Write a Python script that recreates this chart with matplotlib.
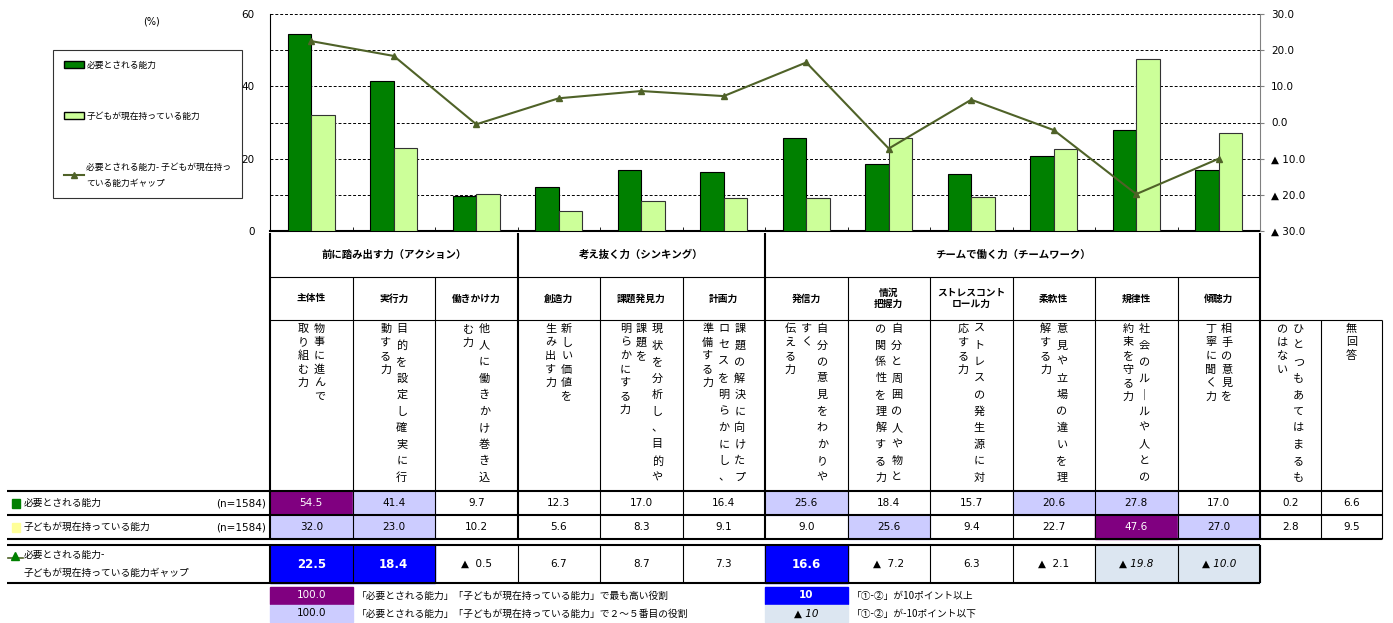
import matplotlib
matplotlib.use('Agg')
import matplotlib.pyplot as plt
from matplotlib.patches import Rectangle, Patch
from matplotlib.lines import Line2D
import numpy as np

plt.rcParams['font.family'] = ['Noto Sans CJK JP', 'DejaVu Sans']
NUM = 'DejaVu Sans'

# ---- data ----
groups = ['前に踏み出す力（アクション）', '考え抜く力（シンキング）', 'チームで働く力（チームワーク）']
group_sizes = [3, 3, 6]
abilities = ['主体性', '実行力', '働きかけ力', '創造力', '課題発見力', '計画力',
             '発信力', '情況\n把握力', 'ストレスコント\nロール力', '柔軟性', '規律性', '傾聴力']
# vertical description text, columns listed right to left
descriptions = [
    ['物事に進んで', '取り組む力'],
    ['目的を設定し確実に行', '動する力'],
    ['他人に働きかけ巻き込', 'む力'],
    ['新しい価値を', '生み出す力'],
    ['現状を分析し、目的や', '課題を', '明らかにする力'],
    ['課題の解決に向けたプ', 'ロセスを明らかにし、', '準備する力'],
    ['自分の意見をわかりや', 'すく', '伝える力'],
    ['自分と周囲の人や物と', 'の関係性を理解する力'],
    ['ストレスの発生源に対', '応する力'],
    ['意見や立場の違いを理', '解する力'],
    ['社会のルールや人との', '約束を守る力'],
    ['相手の意見を', '丁寧に聞く力'],
    ['ひとつもあてはまるも', 'のはない'],
    ['無回答'],
]
needed = [54.5, 41.4, 9.7, 12.3, 17.0, 16.4, 25.6, 18.4, 15.7, 20.6, 27.8, 17.0, 0.2, 6.6]
current = [32.0, 23.0, 10.2, 5.6, 8.3, 9.1, 9.0, 25.6, 9.4, 22.7, 47.6, 27.0, 2.8, 9.5]
gap = [22.5, 18.4, -0.5, 6.7, 8.7, 7.3, 16.6, -7.2, 6.3, -2.1, -19.8, -10.0]

label_need = '必要とされる能力'
label_have = '子どもが現在持っている能力'
label_gap = '必要とされる能力- 子どもが現在持っ\nている能力ギャップ'
n_text = '(n=1584)'

C_NEED = '#008000'
C_HAVE = '#CCFF99'
C_LINE = '#4F6228'
C_TOP = '#800080'
C_RANK = '#CCCCFF'
C_HI = '#0000FF'
C_LO = '#DCE6F1'

W, H = 1393, 623
fig = plt.figure(figsize=(W / 100, H / 100), dpi=100)

# ---- chart ----
n_cat = len(gap)
ax = fig.add_axes([270 / W, 1 - 231 / H, 990 / W, 217 / H])
x = np.arange(n_cat)
bw = 0.285
ax.bar(x - bw / 2, needed[:n_cat], bw, color=C_NEED, edgecolor='black', lw=0.8, zorder=3)
ax.bar(x + bw / 2, current[:n_cat], bw, color=C_HAVE, edgecolor='#333333', lw=0.8, zorder=3)
ax.set_xlim(-0.5, n_cat - 0.5)
ax.set_ylim(0, 60)
ax.set_yticks([0, 20, 40, 60])
ax.set_yticks([10, 30, 50], minor=True)
ax.set_xticks([])
ax.set_xticks(np.arange(-0.5, n_cat, 1), minor=True)
ax.grid(axis='y', which='both', ls=(0, (3, 2)), color='black', lw=0.7, zorder=0)
ax.tick_params(axis='x', which='minor', direction='in', length=3, labelbottom=False)
ax.tick_params(axis='y', which='both', length=0, labelsize=7.5, pad=11)
for lbl in ax.get_yticklabels():
    lbl.set_family(NUM)
ax.spines['top'].set_visible(False)
ax.spines['right'].set_visible(False)
ax.spines['bottom'].set_linewidth(1.5)

ax2 = ax.twinx()
ax2.plot(x, gap, color=C_LINE, lw=1.5, marker='^', ms=5, zorder=5)
ax2.set_ylim(-30, 30)
gticks = [30, 20, 10, 0, -10, -20, -30]
glabels = [f'{v:.1f}' if v >= 0 else f'▲ {abs(v):.1f}' for v in gticks]
ax2.set_yticks(gticks, labels=glabels, fontsize=7.5, family=NUM)
ax2.tick_params(axis='y', length=3, pad=5, color='#808080')
ax2.spines['top'].set_visible(False)
ax2.spines['left'].set_visible(False)
ax2.spines['bottom'].set_visible(False)
ax2.spines['right'].set_color('#808080')

handles = [Patch(facecolor=C_NEED, edgecolor='black'),
           Patch(facecolor=C_HAVE, edgecolor='black'),
           Line2D([], [], color=C_LINE, marker='^', ms=4, lw=1.5)]
leg = fig.legend(handles, [label_need, label_have, label_gap], loc='upper left',
                 bbox_to_anchor=(53 / W, 1 - 50 / H), fontsize=6.3, frameon=True,
                 fancybox=False, edgecolor='black', labelspacing=4.8, borderpad=1.2,
                 handlelength=2.3, handletextpad=0.3, borderaxespad=0)
leg.get_frame().set_linewidth(0.8)
for t in leg.get_texts():
    t.set_linespacing(2.0)
fig.text(152 / W, 1 - 22 / H, '(%)', fontsize=7, ha='center', va='center', family=NUM)

# ---- table ----
tb = fig.add_axes([0, 0, 1, 1], zorder=-1)
tb.set_xlim(0, W)
tb.set_ylim(H, 0)
tb.axis('off')

cw = 82.5
edges = [270 + i * cw for i in range(n_cat + 1)] + [1321, 1382]
centers = [(edges[i] + edges[i + 1]) / 2 for i in range(len(edges) - 1)]
gb = np.cumsum([0] + group_sizes)
thick_x = [edges[i] for i in gb]

def hline(y, x0, x1, lw=0.8):
    tb.plot([x0, x1], [y, y], color='black', lw=lw, solid_capstyle='butt')

def vline(xp, y0, y1, lw=0.8):
    tb.plot([xp, xp], [y0, y1], color='black', lw=lw, solid_capstyle='butt')

Y_G0, Y_G1, Y_S1, Y_D1, Y_R1, Y_R2 = 233, 277, 320, 491, 515, 539
Y_P0, Y_P1 = 545, 583

# group header
for g, name in enumerate(groups):
    tb.text((edges[gb[g]] + edges[gb[g + 1]]) / 2, (Y_G0 + Y_G1) / 2, name,
            ha='center', va='center', fontsize=7.5, weight='bold')
for xp in thick_x:
    vline(xp, Y_G0, Y_S1, 1.5)
hline(Y_G1, edges[0], edges[n_cat])

# sub headers
for i, name in enumerate(abilities):
    tb.text(centers[i], (Y_G1 + Y_S1) / 2, name, ha='center', va='center',
            fontsize=7, weight='bold', linespacing=1.2)
for i in range(1, n_cat):
    if edges[i] not in thick_x:
        vline(edges[i], Y_G1, Y_R2)

# descriptions (vertical text)
for i, cols in enumerate(descriptions):
    n = len(cols)
    for k, col in enumerate(cols):
        cx = centers[i] + (n - 1) / 2 * 16 - k * 16
        pitch = 16.5 if len(col) >= 10 else 13.5
        for j, ch in enumerate(col.replace('ー', '｜')):
            tb.text(cx, 329 + j * pitch, ch, ha='center', va='center', fontsize=8)
hline(Y_S1, edges[0], edges[-1])
for xp in thick_x:
    vline(xp, Y_S1, Y_R2, 1.5)
for xp in edges[n_cat + 1:]:
    vline(xp, Y_S1, Y_R2)

# ranked colouring for the two value rows
def rank_colors(vals):
    order = np.argsort(vals[:n_cat])[::-1]
    cols = [None] * len(vals)
    cols[order[0]] = C_TOP
    for o in order[1:5]:
        cols[o] = C_RANK
    return cols

for vals, (y0, y1) in [(needed, (Y_D1, Y_R1)), (current, (Y_R1, Y_R2))]:
    rc = rank_colors(vals)
    for i, v in enumerate(vals):
        if rc[i]:
            tb.add_patch(Rectangle((edges[i], y0), edges[i + 1] - edges[i], y1 - y0,
                                   color=rc[i], zorder=0))
        tb.text(centers[i], (y0 + y1) / 2, f'{v:.1f}', ha='center', va='center',
                fontsize=7.5, family=NUM, color='white' if rc[i] == C_TOP else 'black')
for y in (Y_D1, Y_R1, Y_R2):
    hline(y, 7, edges[-1], 1.5)

# row labels
tb.add_patch(Rectangle((12, 499), 8, 9, color=C_NEED))
tb.text(24, 503, label_need, ha='left', va='center', fontsize=7)
tb.text(266, 503, n_text, ha='right', va='center', fontsize=7.5, family=NUM)
tb.add_patch(Rectangle((12, 523), 8, 9, color='#FFFF99'))
tb.text(24, 527, label_have, ha='left', va='center', fontsize=7)
tb.text(266, 527, n_text, ha='right', va='center', fontsize=7.5, family=NUM)
tb.plot([8, 23], [558, 558], color=C_LINE, lw=1.2)
tb.plot([15], [556], marker='^', ms=6, color=C_NEED)
tb.text(24, 555, '必要とされる能力-', ha='left', va='center', fontsize=7)
tb.text(24, 573, label_have + 'ギャップ', ha='left', va='center', fontsize=7)

# gap row
for i, v in enumerate(gap):
    fc = C_HI if v >= 10 else (C_LO if v <= -10 else None)
    if fc:
        tb.add_patch(Rectangle((edges[i], Y_P0), edges[i + 1] - edges[i], Y_P1 - Y_P0,
                               color=fc, zorder=0))
    if v >= 0:
        s = f'{v:.1f}'
    elif v <= -10:
        s = f'▲ {abs(v):.1f}'
    else:
        s = f'▲  {abs(v):.1f}'
    tb.text(centers[i], (Y_P0 + Y_P1) / 2, s, ha='center', va='center', family=NUM,
            fontsize=8.5 if fc == C_HI else 7.5, weight='bold' if fc == C_HI else 'normal',
            style='italic' if fc == C_LO else 'normal',
            color='white' if fc == C_HI else 'black')
hline(Y_P0, 7, edges[n_cat], 1.5)
hline(Y_P1, 7, edges[n_cat], 1.5)
for i in range(n_cat + 1):
    vline(edges[i], Y_P0, Y_P1, 1.5 if i in (0, n_cat) else 0.8)

# colour key
keys = [
    (edges[0], 587, C_TOP, '100.0', 'white', 'normal', 'normal',
     '「必要とされる能力」「子どもが現在持っている能力」で最も高い役割'),
    (edges[0], 605, C_RANK, '100.0', 'black', 'normal', 'normal',
     '「必要とされる能力」「子どもが現在持っている能力」で２～５番目の役割'),
    (edges[6], 587, C_HI, '10', 'white', 'bold', 'normal', '「①-②」が10ポイント以上'),
    (edges[6], 605, C_LO, '▲ 10', 'black', 'normal', 'italic', '「①-②」が-10ポイント以下'),
]
for kx, ky, fc, s, tc, wt, st, desc in keys:
    tb.add_patch(Rectangle((kx, ky), cw, 17, color=fc))
    tb.text(kx + cw / 2, ky + 8.5, s, ha='center', va='center', fontsize=7.5,
            family=NUM, color=tc, weight=wt, style=st)
    tb.text(kx + cw + 4, ky + 8.5, desc, ha='left', va='center', fontsize=7)

fig.savefig('out.png', dpi=100)
